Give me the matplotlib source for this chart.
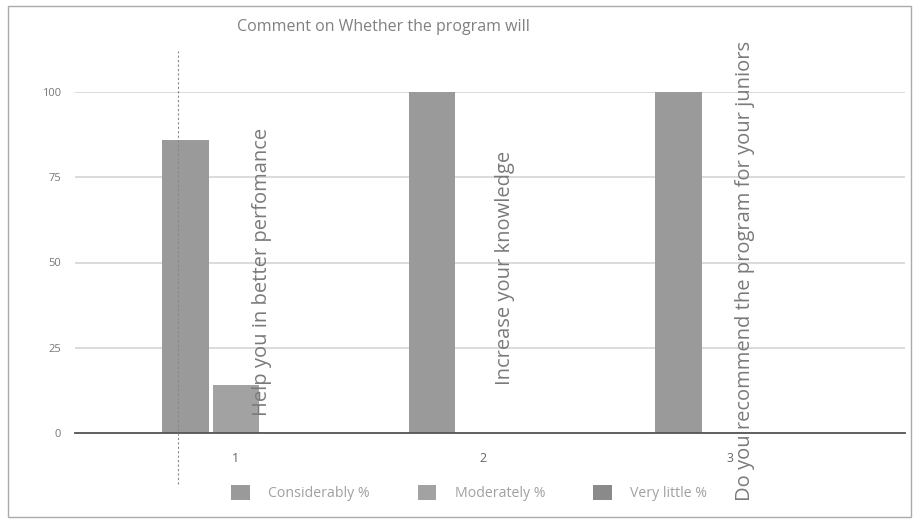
import matplotlib
matplotlib.use("Agg")
import matplotlib.pyplot as plt
from matplotlib.patches import Rectangle
import numpy as np

plt.rcParams['font.family'] = ['Open Sans', 'DejaVu Sans']

categories = ["1", "2", "3"]
category_notes = ["Help you in better perfomance", "Increase your knowledge",
                  "Do you recommend the program for your juniors"]
series_names = ["Considerably %", "Moderately %", "Very little %"]
considerably = [86, 100, 100]
moderately = [14, 0, 0]
very_little = [0, 0, 0]
yticks = [0, 25, 50, 75, 100]

fig = plt.figure(figsize=(9.17, 5.23), dpi=100)
ax = fig.add_axes([75/917, 1-433/523, 830/917, (433-92)/523])

x = np.arange(1, len(categories) + 1)
w = 0.19
gap = 0.016
colors = ["#9a9a9a", "#a2a2a2", "#8a8a8a"]
for i, vals in enumerate([considerably, moderately, very_little]):
    ax.bar(x + (i - 1) * (w + gap), vals, width=w, color=colors[i], zorder=2,
           label=series_names[i])

ax.set_xlim(0.348, 3.71)
ax.set_ylim(0, 100)
ax.set_yticks(yticks)
ax.set_yticklabels([str(t) for t in yticks], fontsize=8, color="#777777")
ax.set_xticks(x)
ax.set_xticklabels(categories, fontsize=9, color="#666666")
ax.tick_params(length=0, pad=14)
ax.tick_params(axis='y', pad=10)
ax.grid(axis='y', color="#d4d4d4", linewidth=1.2, zorder=0)
for s in ["top", "right", "left"]:
    ax.spines[s].set_visible(False)
ax.spines["bottom"].set_color("#555555")
ax.spines["bottom"].set_linewidth(1.3)

# rotated category notes
note_x = [1.105, 2.09, 3.06]
note_y = [5, 14, -20]
for nx, ny, t in zip(note_x, note_y, category_notes):
    ax.text(nx, ny, t, rotation=90, ha='center', va='bottom', fontsize=14.5,
            color="#7a7a7a", clip_on=False, zorder=3)

# dotted vertical artifact line
ax.plot([0.765, 0.765], [-15, 112], color="#888888", lw=0.8, ls=(0, (2, 2)),
        clip_on=False, zorder=4)

fig.text(383/917, 1-27/523, "Comment on Whether the program will", ha='center',
         va='center', fontsize=11.5, color="#808080")

leg = ax.legend(loc='upper center', bbox_to_anchor=(0.475, -0.115), ncol=3,
                frameon=False, fontsize=10.2, handlelength=1.3, handleheight=1.3,
                columnspacing=3.4, handletextpad=1.3)
for t in leg.get_texts():
    t.set_color("#a0a0a0")

fig.add_artist(Rectangle((8/917, 6/523), 903/917, 511/523, transform=fig.transFigure,
                         fill=False, edgecolor="#aaaaaa", lw=1))

fig.savefig("out.png", dpi=100)
